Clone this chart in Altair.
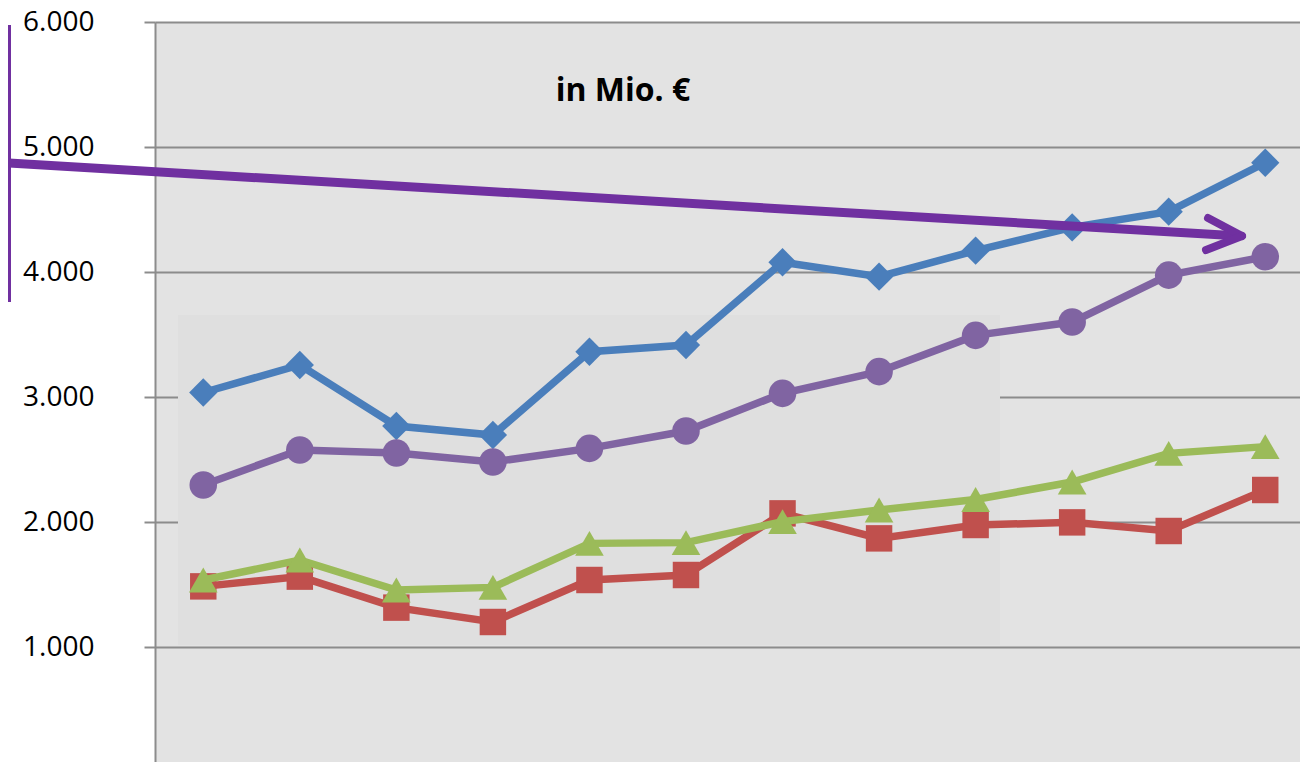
import altair as alt
import pandas as pd

# ---- data ----
periods = list(range(12))
series_names = ["Blau", "Rot", "Grün", "Lila"]
blue = [3036, 3256, 2768, 2696, 3362, 3416, 4078, 3963, 4171, 4357, 4483, 4874]
red = [1485, 1563, 1315, 1200, 1536, 1576, 2069, 1869, 1976, 1997, 1928, 2256]
green = [1536, 1696, 1456, 1477, 1829, 1835, 2003, 2096, 2180, 2320, 2549, 2603]
purple = [2296, 2576, 2552, 2480, 2589, 2728, 3029, 3203, 3493, 3600, 3975, 4122]
y_ticks = [1000, 2000, 3000, 4000, 5000, 6000]
title_text = "in Mio. €"

colors = {"Blau": "#4a7ebb", "Rot": "#c0504d", "Grün": "#9bbb59", "Lila": "#8064a2"}
shapes = {"Blau": "diamond", "Rot": "square", "Grün": "triangle-up", "Lila": "circle"}
sizes = {"Blau": 800, "Rot": 700, "Grün": 820, "Lila": 760}
values = {"Blau": blue, "Rot": red, "Grün": green, "Lila": purple}

x_scale = alt.Scale(domain=[-0.5, 11.36], nice=False, zero=False)
y_scale = alt.Scale(domain=[80, 6000], nice=False, zero=False)

y_axis = alt.Axis(
    values=y_ticks,
    labelExpr="replace(format(datum.value, ','), ',', '.')",
    title=None,
)

# background inner panel
panel = alt.Chart(pd.DataFrame({"a": [0]})).mark_rect(color="#dfdfdf").encode(
    x=alt.value(23), x2=alt.value(845), y=alt.value(293), y2=alt.value(623)
)

layers = [panel]
for name in series_names:
    df = pd.DataFrame({"period": periods, "value": values[name]})
    base = alt.Chart(df).encode(
        x=alt.X("period:Q", scale=x_scale, axis=None),
        y=alt.Y("value:Q", scale=y_scale, axis=y_axis),
    )
    line = base.mark_line(color=colors[name], strokeWidth=7.5)
    pts = base.mark_point(
        filled=True, opacity=1, color=colors[name], shape=shapes[name], size=sizes[name]
    )
    layers += [line, pts]

annot_color = "#7030a0"
dummy = pd.DataFrame({"a": [0]})
vline = alt.Chart(dummy).mark_rule(color=annot_color, strokeWidth=3).encode(
    x=alt.value(-145.5), y=alt.value(3), y2=alt.value(280)
)
arrow_main = alt.Chart(dummy).mark_rule(color=annot_color, strokeWidth=9).encode(
    x=alt.value(-146), y=alt.value(141), x2=alt.value(1085), y2=alt.value(214)
)
barb1 = alt.Chart(dummy).mark_rule(color=annot_color, strokeWidth=8, strokeCap="round").encode(
    x=alt.value(1087), y=alt.value(214), x2=alt.value(1053), y2=alt.value(196)
)
barb2 = alt.Chart(dummy).mark_rule(color=annot_color, strokeWidth=8, strokeCap="round").encode(
    x=alt.value(1087), y=alt.value(214), x2=alt.value(1051), y2=alt.value(228)
)
title = alt.Chart(dummy).mark_text(
    text=title_text, font="Open Sans", fontWeight="bold", fontSize=32,
    align="center", baseline="alphabetic", color="#000000",
).encode(x=alt.value(468), y=alt.value(79))

layers += [vline, arrow_main, barb1, barb2, title]

chart = alt.layer(*layers).properties(
    width=1145,
    height=740,
    autosize=alt.AutoSizeParams(type="none"),
    padding={"left": 147, "top": 14, "right": 0, "bottom": 0},
    background="white",
).configure_view(
    fill="#e3e3e3", stroke=None
).configure_axis(
    labelFont="Open Sans", labelFontSize=28, labelColor="#000000",
    tickSize=11, tickColor="#8c8c8c", tickWidth=2,
    domainColor="#8c8c8c", domainWidth=2,
    gridColor="#8c8c8c", gridWidth=2, grid=True,
    labelPadding=50,
)

chart.save("out.html", embed_options={"renderer": "svg", "actions": False})
